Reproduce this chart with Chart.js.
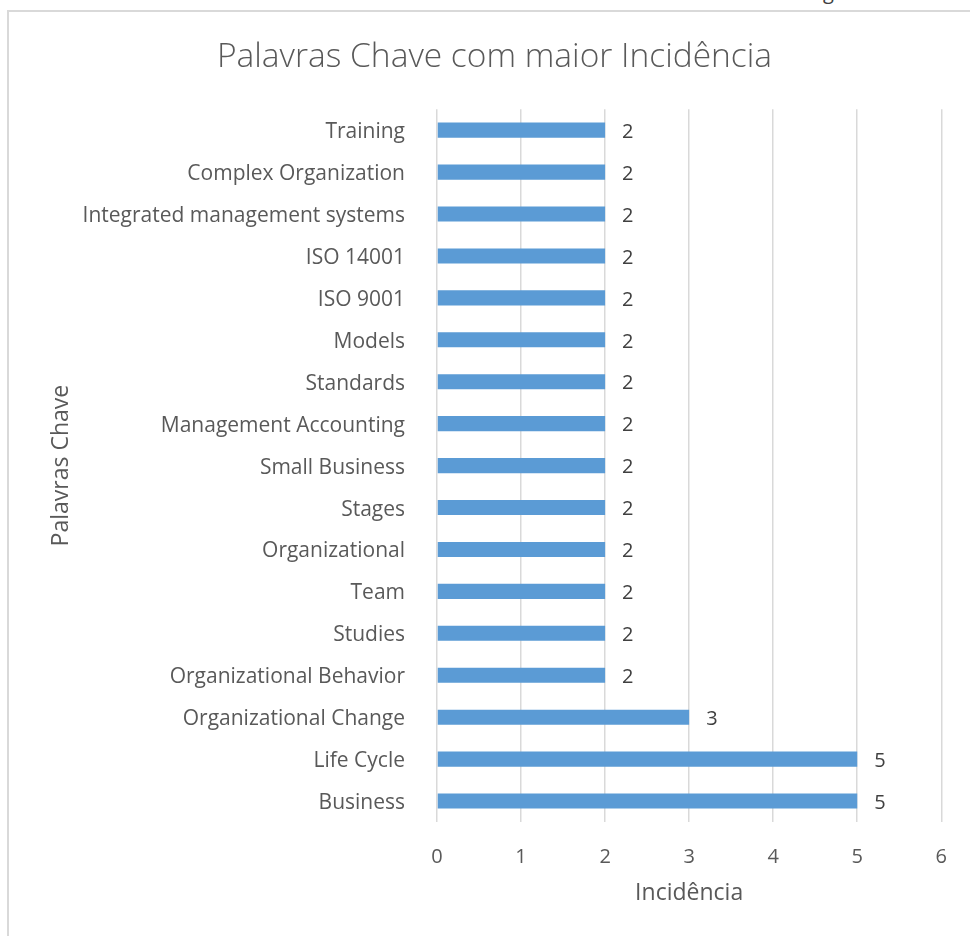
<!DOCTYPE html>
<html>
<head>
<meta charset="utf-8">
<script src="https://cdn.jsdelivr.net/npm/chart.js@4.4.0/dist/chart.umd.min.js"></script>
<style>
  html, body { margin: 0; padding: 0; background: #fff; overflow: hidden; }
  #wrap { position: relative; width: 970px; height: 936px; }
  #frame { position: absolute; left: 7px; top: 10px; width: 1000px; height: 1000px; border: 2px solid #d9d9d9; box-sizing: border-box; }
  #cut { position: absolute; left: 823px; top: -22px; font: 20px "Open Sans", sans-serif; color: #404040; }
  canvas { position: absolute; left: 0; top: 0; }
</style>
</head>
<body>
<div id="wrap">
  <div id="cut">g</div>
  <div id="frame"></div>
  <canvas id="keywordChart" width="970" height="936"></canvas>
</div>
<script>
// keywords, top to bottom as in the chart
const keywords = [
    'Training', 'Complex Organization', 'Integrated management systems', 'ISO 14001',
    'ISO 9001', 'Models', 'Standards', 'Management Accounting', 'Small Business',
    'Stages', 'Organizational', 'Team', 'Studies', 'Organizational Behavior',
    'Organizational Change', 'Life Cycle', 'Business'
];
const incidence = [2, 2, 2, 2, 2, 2, 2, 2, 2, 2, 2, 2, 2, 2, 3, 5, 5];
const xTicks = [0, 1, 2, 3, 4, 5, 6];

const textColor = '#595959';
const fontFamily = '"Open Sans", sans-serif';

// value labels just right of each bar
const valueLabels = {
    id: 'valueLabels',
    afterDatasetsDraw(chart) {
        const ctx = chart.ctx;
        const meta = chart.getDatasetMeta(0);
        ctx.save();
        ctx.font = '20px ' + fontFamily;
        ctx.fillStyle = '#404040';
        ctx.textAlign = 'left';
        ctx.textBaseline = 'middle';
        meta.data.forEach(function(bar, i) {
            ctx.fillText(String(incidence[i]), bar.x + 17, bar.y + 2);
        });
        ctx.restore();
    }
};

document.addEventListener("DOMContentLoaded", function() {
    const ctx = document.getElementById("keywordChart").getContext("2d");

    new Chart(ctx, {
        type: 'bar',
        data: {
            labels: keywords,
            datasets: [{
                label: 'Incidência',
                data: incidence,
                backgroundColor: '#5B9BD5',
                borderWidth: 0,
                barPercentage: 0.36,
                categoryPercentage: 1
            }]
        },
        options: {
            indexAxis: 'y',
            responsive: false,
            animation: false,
            layout: { padding: { left: 44, right: 25, top: 0, bottom: 0 } },
            plugins: {
                legend: { display: false },
                tooltip: { enabled: false },
                title: {
                    display: true,
                    text: 'Palavras Chave com maior Incidência',
                    color: textColor,
                    font: { family: fontFamily, size: 33.5, weight: '300' },
                    padding: { top: 37, bottom: 32 }
                }
            },
            scales: {
                x: {
                    min: 0,
                    max: 6,
                    afterBuildTicks: function(scale) {
                        scale.ticks = xTicks.map(function(v) { return { value: v }; });
                    },
                    afterFit: function(scale) { scale.height = 114; },
                    grid: { color: '#d9d9d9', lineWidth: 1.5, drawTicks: false },
                    border: { display: false },
                    ticks: {
                        color: textColor,
                        padding: 23,
                        font: { family: fontFamily, size: 20 }
                    },
                    title: {
                        display: true,
                        text: 'Incidência',
                        color: textColor,
                        font: { family: fontFamily, size: 23 },
                        padding: { top: 0, bottom: 29 }
                    }
                },
                y: {
                    afterFit: function(scale) { scale.width = 393; },
                    grid: { display: false, drawTicks: false },
                    border: { display: false },
                    ticks: {
                        color: textColor,
                        padding: 32,
                        labelOffset: 2,
                        font: { family: fontFamily, size: 21 },
                        autoSkip: false
                    },
                    title: {
                        display: true,
                        text: 'Palavras Chave',
                        color: textColor,
                        font: { family: fontFamily, size: 23 },
                        padding: { top: 4, bottom: 0 }
                    }
                }
            }
        },
        plugins: [valueLabels]
    });
});
</script>
</body>
</html>
